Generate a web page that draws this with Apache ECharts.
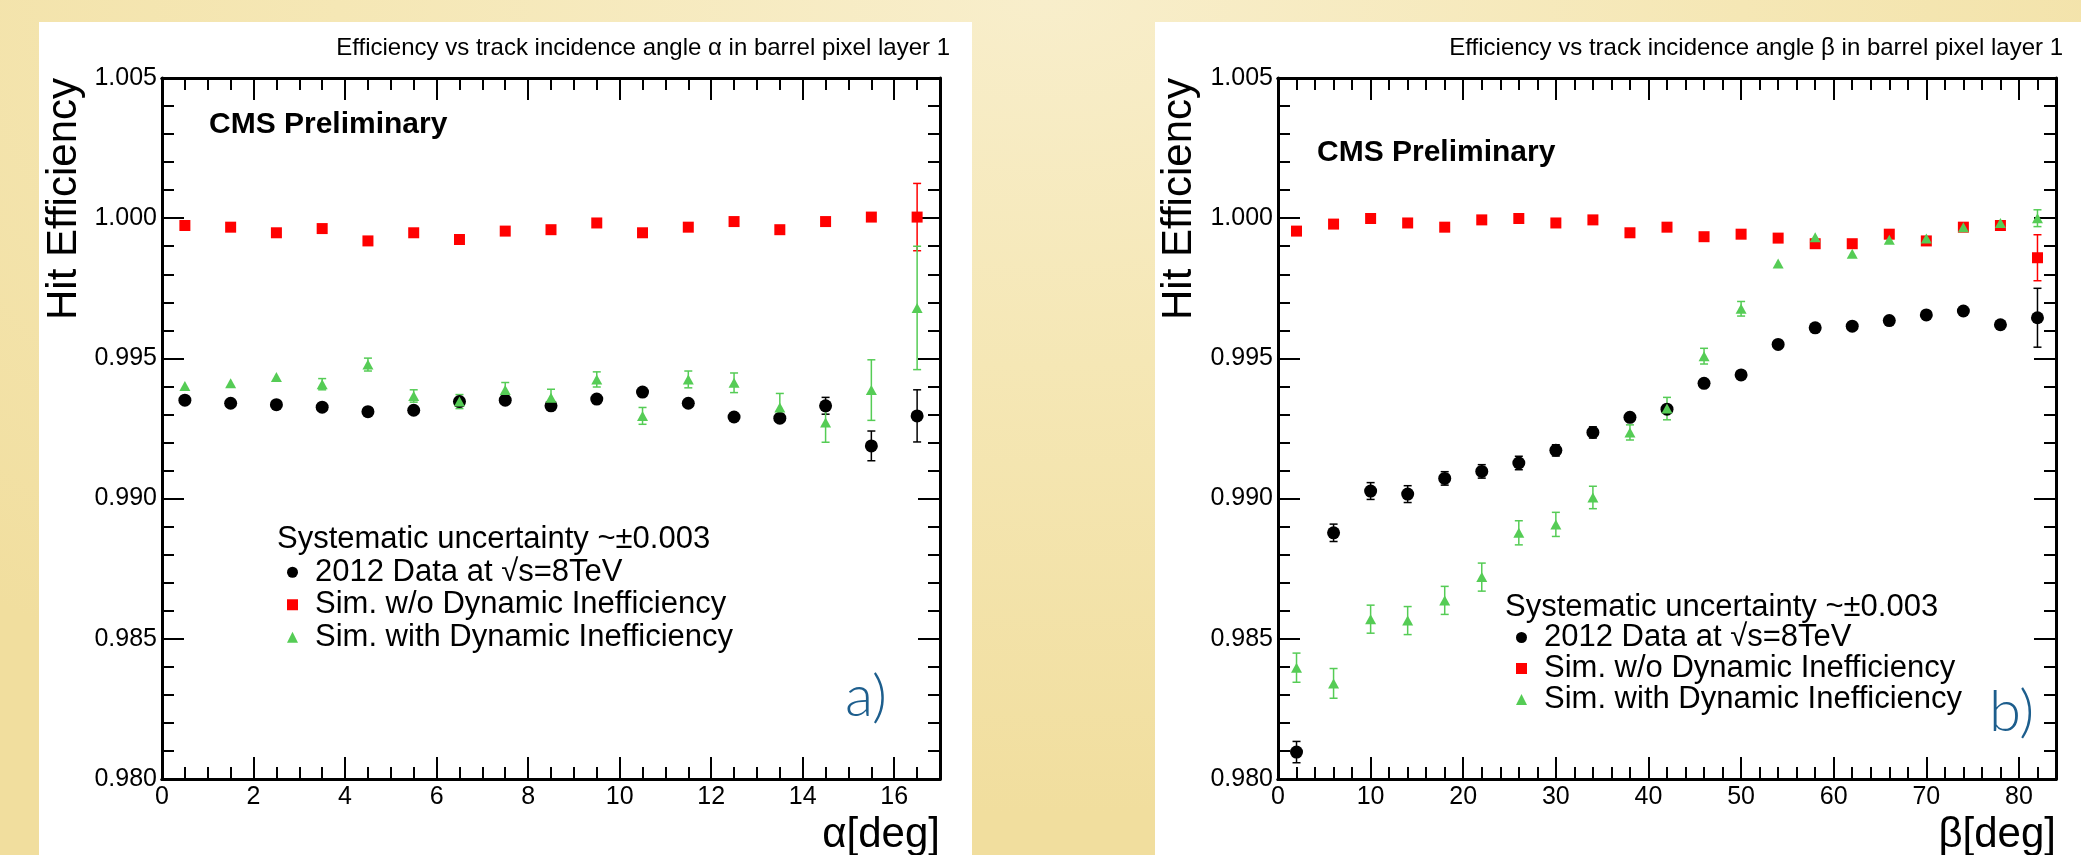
<!DOCTYPE html>
<html><head><meta charset="utf-8">
<script src="https://cdn.jsdelivr.net/npm/echarts@6/dist/echarts.min.js"></script>
<style>
html,body{margin:0;padding:0;width:2081px;height:855px;overflow:hidden;}
body{position:relative;background:radial-gradient(ellipse 75% 95% at 50% 0%, #f8eecb 0%, #f5e7b5 45%, #f1de9e 100%);}
.panel{position:absolute;background:#ffffff;}
#chart{position:absolute;left:0;top:0;width:2081px;height:855px;}
</style></head>
<body>
<div class="panel" style="left:39px;top:22px;width:933px;height:833px"></div>
<div class="panel" style="left:1155px;top:22px;width:926px;height:833px"></div>
<div id="chart"></div>
<script>
// ---------- data: panel a) (alpha) ----------
const alphaX = [0.5,1.5,2.5,3.5,4.5,5.5,6.5,7.5,8.5,9.5,10.5,11.5,12.5,13.5,14.5,15.5,16.5];
const alphaData = [0.99351,0.99340,0.99335,0.99326,0.99310,0.99315,0.99346,0.99351,0.99331,0.99355,0.99380,0.99340,0.99291,0.99287,0.99331,0.99188,0.99295];
const alphaDataErr = [0.0001,0.0001,0.0001,0.0001,0.0001,0.0001,0.0001,0.0001,0.0001,0.0001,0.0001,0.0001,0.00012,0.00015,0.0003,0.00053,0.00093];
const alphaSimNoDyn = [0.99974,0.99968,0.99948,0.99963,0.99919,0.99948,0.99924,0.99954,0.99959,0.99983,0.99948,0.99968,0.99988,0.99959,0.99988,1.00004,1.00004];
const alphaSimNoDynErr = [0.00005,0.00005,0.00005,0.00005,0.00005,0.00005,0.00005,0.00005,0.00005,0.00005,0.00005,0.00005,0.00005,0.00005,0.00005,0.00005,0.0012];
const alphaSimDyn = [0.99402,0.99411,0.99434,0.99408,0.99478,0.99366,0.99346,0.99387,0.99360,0.99425,0.99295,0.99425,0.99413,0.99325,0.99271,0.99387,0.99680];
const alphaSimDynErr = [0.0001,0.0001,0.0001,0.0002,0.00023,0.00022,0.00025,0.00027,0.0003,0.00027,0.0003,0.0003,0.00035,0.0005,0.0007,0.00108,0.0022];

// ---------- data: panel b) (beta) ----------
const betaX = [2,6,10,14,18,22,26,30,34,38,42,46,50,54,58,62,66,70,74,78,82];
const betaData = [0.98096,0.98878,0.99027,0.99016,0.99072,0.99097,0.99127,0.99172,0.99236,0.99290,0.99319,0.99411,0.99441,0.99550,0.99609,0.99615,0.99635,0.99655,0.99669,0.99620,0.99645];
const betaDataErr = [0.00038,0.00031,0.0003,0.0003,0.00024,0.00024,0.00024,0.0002,0.0002,0.00015,0.00015,0.0001,0.0001,0.0001,0.0001,0.0001,0.0001,0.0001,0.0001,0.0001,0.00105];
const betaSimNoDyn = [0.99954,0.99979,0.99999,0.99983,0.99968,0.99994,0.99999,0.99983,0.99994,0.99948,0.99968,0.99934,0.99943,0.99929,0.99909,0.99909,0.99943,0.99919,0.99968,0.99974,0.99859];
const betaSimNoDynErr = [0.00005,0.00005,0.00005,0.00005,0.00005,0.00005,0.00005,0.00005,0.00005,0.00005,0.00005,0.00005,0.00005,0.00005,0.00005,0.00005,0.00005,0.00005,0.00005,0.00005,0.00082];
const betaSimDyn = [0.98397,0.98341,0.98570,0.98565,0.98637,0.98720,0.98878,0.98908,0.99004,0.99236,0.99321,0.99508,0.99677,0.99838,0.99932,0.99873,0.99923,0.99928,0.99968,0.99983,1.00000];
const betaSimDynErr = [0.00052,0.00053,0.0005,0.0005,0.0005,0.0005,0.00043,0.00043,0.0004,0.00027,0.0004,0.00028,0.00026,0.0001,0.0001,0.0001,0.0001,0.0001,0.0001,0.0001,0.0003];

// ---------- tick labels & texts ----------
const alphaTicks = [0,2,4,6,8,10,12,14,16];
const alphaTickLabels = ['0','2','4','6','8','10','12','14','16'];
const betaTicks = [0,10,20,30,40,50,60,70,80];
const betaTickLabels = ['0','10','20','30','40','50','60','70','80'];
const yTicks = [0.980,0.985,0.990,0.995,1.000,1.005];
const yTickLabels = ['0.980','0.985','0.990','0.995','1.000','1.005'];
const seriesNames = ['2012 Data at \u221As=8TeV','Sim. w/o Dynamic Inefficiency','Sim. with Dynamic Inefficiency'];
const plotTitles = ['Efficiency vs track incidence angle \u03B1 in barrel pixel layer 1','Efficiency vs track incidence angle \u03B2 in barrel pixel layer 1'];
const xTitles = ['\u03B1[deg]','\u03B2[deg]'];
const yTitle = 'Hit Efficiency';
const headerText = 'Systematic uncertainty ~\u00B10.003';
const cmsText = 'CMS Preliminary';
const panelTags = ['a)','b)'];

const FONT = '"Liberation Sans", Arial, Helvetica, sans-serif';
const BLACK = '#000000', RED = '#ff0000', GREEN = '#55cc55';

function lookup(ticks, labels) {
  return v => { const i = ticks.findIndex(t => Math.abs(t - v) < 1e-7); return i >= 0 ? labels[i] : ''; };
}
const frameLine = {show:true, onZero:false, lineStyle:{color:BLACK, width:3}};
function xAxes(gi, max, majorInt, minorInt, ticks, labels) {
  const base = {gridIndex:gi, type:'value', min:0, max:max, splitLine:{show:false}, axisLine:frameLine, axisPointer:{show:false}};
  const major = {show:true, inside:true, length:22, lineStyle:{color:BLACK, width:2}};
  const minor = {show:true, inside:true, length:12, lineStyle:{color:BLACK, width:2}};
  return [
    Object.assign({}, base, {position:'bottom', interval:majorInt, axisTick:major,
      axisLabel:{show:true, formatter:lookup(ticks, labels), fontSize:25, color:BLACK, fontFamily:FONT, margin:6, showMinLabel:true, showMaxLabel:true}}),
    Object.assign({}, base, {position:'bottom', interval:minorInt, axisTick:minor, axisLabel:{show:false}}),
    Object.assign({}, base, {position:'top', interval:majorInt, axisTick:major, axisLabel:{show:false}}),
    Object.assign({}, base, {position:'top', interval:minorInt, axisTick:minor, axisLabel:{show:false}})
  ];
}
function yAxes(gi) {
  const base = {gridIndex:gi, type:'value', min:0.980, max:1.005, interval:0.005, splitLine:{show:false}, axisLine:frameLine,
    axisTick:{show:true, inside:true, length:22, lineStyle:{color:BLACK, width:2}},
    minorTick:{show:true, splitNumber:5, length:12, lineStyle:{color:BLACK, width:2}}};
  return [
    Object.assign({}, base, {position:'left', axisLabel:{show:true, formatter:lookup(yTicks, yTickLabels), fontSize:25, color:BLACK, fontFamily:FONT, margin:5, showMinLabel:true, showMaxLabel:true}}),
    Object.assign({}, base, {position:'right', axisLabel:{show:false}})
  ];
}
function errSeries(xi, yi, xs, ys, es, color) {
  return {type:'custom', xAxisIndex:xi, yAxisIndex:yi, silent:true, z:1,
    data: xs.map((x, i) => [x, ys[i], es[i]]),
    renderItem: (params, api) => {
      const x = api.value(0), y = api.value(1), e = api.value(2);
      const t = api.coord([x, y + e]), b = api.coord([x, y - e]);
      if (b[1] - t[1] < 10) return null;
      const st = {stroke: color, lineWidth: 1.5};
      return {type:'group', children:[
        {type:'line', shape:{x1:t[0], y1:t[1], x2:b[0], y2:b[1]}, style:st},
        {type:'line', shape:{x1:t[0]-4, y1:t[1], x2:t[0]+4, y2:t[1]}, style:st},
        {type:'line', shape:{x1:b[0]-4, y1:b[1], x2:b[0]+4, y2:b[1]}, style:st}
      ]};
    }};
}
function scat(xi, yi, name, xs, ys, symbol, size, color, z) {
  return {type:'scatter', name:name, xAxisIndex:xi, yAxisIndex:yi, symbol:symbol, symbolSize:size, silent:true, z:z,
    itemStyle:{color:color, opacity:1}, emphasis:{disabled:true}, data: xs.map((x, i) => [x, ys[i]])};
}
function panelSeries(xi, yi, xs, d, de, s1, s1e, s2, s2e) {
  return [
    errSeries(xi, yi, xs, d, de, BLACK),
    scat(xi, yi, seriesNames[0], xs, d, 'circle', 13, BLACK, 2),
    errSeries(xi, yi, xs, s1, s1e, RED),
    scat(xi, yi, seriesNames[1], xs, s1, 'rect', 11, RED, 3),
    errSeries(xi, yi, xs, s2, s2e, GREEN),
    scat(xi, yi, seriesNames[2], xs, s2, 'triangle', [11, 10], GREEN, 4)
  ];
}
function legendAt(left, top, lh) {
  return {left:left, top:top, orient:'vertical', padding:0, itemGap:0, itemWidth:11, itemHeight:11, selectedMode:false,
    textStyle:{fontSize:31, lineHeight:lh, fontFamily:FONT, color:BLACK, padding:[0,0,0,12]},
    data: [{name:seriesNames[0], icon:'circle'}, {name:seriesNames[1], icon:'rect'}, {name:seriesNames[2], icon:'triangle'}]};
}
function txt(x, y, text, size, opts) {
  opts = opts || {};
  return {type:'text', x:x, y:y, rotation:opts.rotation || 0, z:100, silent:true,
    style:{text:text, fontSize:size, fontFamily:opts.family || FONT, fontWeight:opts.weight || 'normal', fill:opts.color || BLACK,
      align:opts.align || 'left', textAlign:opts.align || 'left', verticalAlign:'middle', textVerticalAlign:'middle'}};
}

const chart = echarts.init(document.getElementById('chart'), null, {renderer:'canvas'});
chart.setOption({
  backgroundColor:'transparent',
  animation:false,
  grid:[{left:162, top:78, width:778, height:701}, {left:1278, top:78, width:778, height:701}],
  xAxis: [].concat(xAxes(0, 17, 2, 0.5, alphaTicks, alphaTickLabels), xAxes(1, 84, 10, 2, betaTicks, betaTickLabels)),
  yAxis: [].concat(yAxes(0), yAxes(1)),
  legend:[legendAt(287, 556, 32.5), legendAt(1516, 622, 31)],
  series: [].concat(
    panelSeries(0, 0, alphaX, alphaData, alphaDataErr, alphaSimNoDyn, alphaSimNoDynErr, alphaSimDyn, alphaSimDynErr),
    panelSeries(4, 2, betaX, betaData, betaDataErr, betaSimNoDyn, betaSimNoDynErr, betaSimDyn, betaSimDynErr)
  ),
  graphic:[
    txt(950, 48, plotTitles[0], 24, {align:'right'}),
    txt(2063, 48, plotTitles[1], 24, {align:'right'}),
    txt(209, 125, cmsText, 30, {weight:'bold'}),
    txt(1317, 153, cmsText, 30, {weight:'bold'}),
    txt(64, 78, yTitle, 42, {align:'right', rotation:Math.PI/2}),
    txt(1179, 78, yTitle, 42, {align:'right', rotation:Math.PI/2}),
    txt(940, 835, xTitles[0], 42, {align:'right'}),
    txt(2056, 835, xTitles[1], 42, {align:'right'}),
    txt(277, 539, headerText, 31),
    txt(1505, 607, headerText, 31),
    txt(845, 697, panelTags[0], 58, {family:'Lato', weight:300, color:'#1d5e8d'}),
    txt(1989, 712, panelTags[1], 58, {family:'Lato', weight:300, color:'#1d5e8d'})
  ]
});
</script>
</body></html>
